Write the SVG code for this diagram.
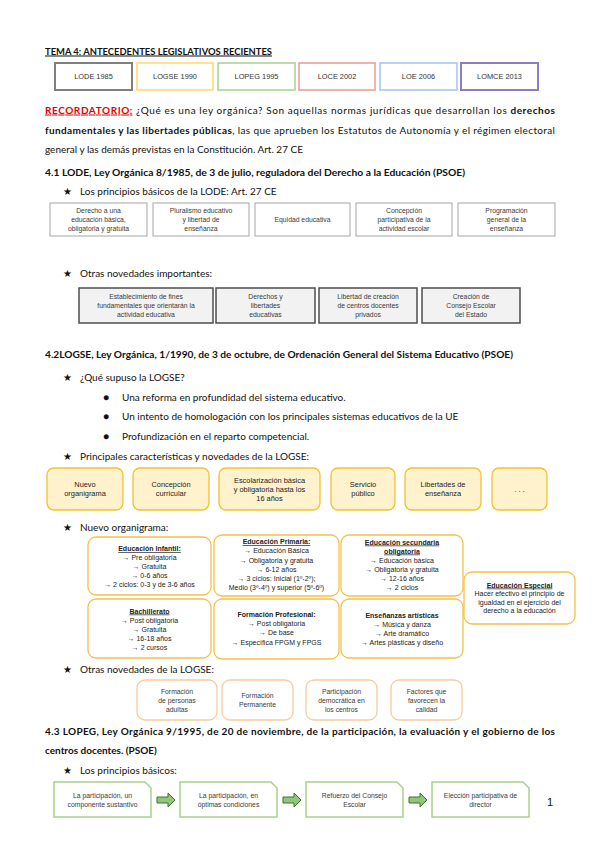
<svg xmlns="http://www.w3.org/2000/svg" width="600" height="848" viewBox="0 0 600 848">
<style>
  .body{font-family:Lato,"Open Sans","Liberation Sans",sans-serif;font-size:10px;fill:#111}
  .b{font-weight:bold}
  .u{text-decoration:underline}
  .star{font-family:"DejaVu Sans",sans-serif;font-size:10px;fill:#111}
  .sm{font-family:"Liberation Sans",Arial,sans-serif;font-size:6.8px;fill:#3a3a3a;text-anchor:middle}
  .lb{font-family:"Liberation Sans",Arial,sans-serif;font-size:7.4px;fill:#222;text-anchor:middle}
  .org{font-family:"Liberation Sans",Arial,sans-serif;font-size:7px;fill:#222;text-anchor:middle}
  .hdr{font-family:"Liberation Sans",Arial,sans-serif;font-size:7.4px;fill:#333;text-anchor:middle}
  .gbox{fill:#fff;stroke:#a6a6a6;stroke-width:1}
  .dbox{fill:#f2f2f2;stroke:#4d4d4d;stroke-width:1.5}
  .ybox{fill:#fff2cc;stroke:#f1c232;stroke-width:1.3}
  .obox{fill:#fff;stroke:#f6c04a;stroke-width:1.3}
  .orbox{fill:#fff;stroke:#f9cb9c;stroke-width:1.3}
  .grbox{fill:#fff;stroke:#a9d18e;stroke-width:1.5}
  .arr{fill:#93c47d;stroke:#38761d;stroke-width:1}
</style>
<defs>
  <path id="blockArrow" d="M0,-3 H11 V-7 L18,0 L11,7 V3 H0 Z"/>
</defs>
<rect width="600" height="848" fill="#fff"/>

<g id="title">
  <text class="body b u" x="45" y="54.5" font-size="9.5" textLength="227" lengthAdjust="spacingAndGlyphs">TEMA 4: ANTECEDENTES LEGISLATIVOS RECIENTES</text>
</g>

<g id="laws">
  <g id="law-lode"><rect x="55" y="63" width="77" height="27" fill="#fff" stroke="#7f7f7f" stroke-width="2"/><text class="hdr" x="93.5" y="79">LODE 1985</text></g>
  <g id="law-logse"><rect x="137" y="63" width="76" height="27" fill="#fff" stroke="#ffd966" stroke-width="1.5"/><text class="hdr" x="175" y="79">LOGSE 1990</text></g>
  <g id="law-lopeg"><rect x="218" y="63" width="77" height="27" fill="#fff" stroke="#a9d18e" stroke-width="1.5"/><text class="hdr" x="256.5" y="79">LOPEG 1995</text></g>
  <g id="law-loce"><rect x="299" y="63" width="76" height="27" fill="#fff" stroke="#ea9999" stroke-width="1.5"/><text class="hdr" x="337" y="79">LOCE 2002</text></g>
  <g id="law-loe"><rect x="380" y="63" width="77" height="27" fill="#fff" stroke="#a4c2f4" stroke-width="1.5"/><text class="hdr" x="418.5" y="79">LOE 2006</text></g>
  <g id="law-lomce"><rect x="461" y="63" width="77" height="27" fill="#fff" stroke="#8e7cc3" stroke-width="2"/><text class="hdr" x="499.5" y="79">LOMCE 2013</text></g>
</g>

<g id="recordatorio">
  <text class="body" x="45" y="113.5" textLength="510" lengthAdjust="spacing"><tspan class="b u" fill="#e00000">RECORDATORIO:</tspan> ¿Qué es una ley orgánica? Son aquellas normas jurídicas que desarrollan los <tspan class="b">derechos</tspan></text>
  <text class="body" x="45" y="133.5" textLength="510" lengthAdjust="spacing"><tspan class="b">fundamentales y las libertades públicas</tspan>, las que aprueben los Estatutos de Autonomía y el régimen electoral</text>
  <text class="body" x="45" y="152.5">general y las demás previstas en la Constitución. Art. 27 CE</text>
</g>

<g id="h41">
  <text class="body b" x="45" y="175.5" textLength="420" lengthAdjust="spacingAndGlyphs">4.1 LODE, Ley Orgánica 8/1985, de 3 de julio, reguladora del Derecho a la Educación (PSOE)</text>
  <text class="star" x="63" y="195">★</text>
  <text class="body" x="80" y="195">Los principios básicos de la LODE: Art. 27 CE</text>
</g>

<g id="lode-p1"><rect class="gbox" x="50" y="203" width="97" height="33"/><text class="sm"><tspan x="98.5" y="213">Derecho a una</tspan><tspan x="98.5" y="222">educación básica,</tspan><tspan x="98.5" y="231">obligatoria y gratuita</tspan></text></g>
<g id="lode-p2"><rect class="gbox" x="153" y="203" width="96" height="33"/><text class="sm"><tspan x="201" y="213">Pluralismo educativo</tspan><tspan x="201" y="222">y libertad de</tspan><tspan x="201" y="231">enseñanza</tspan></text></g>
<g id="lode-p3"><rect class="gbox" x="255" y="203" width="95" height="33"/><text class="sm" x="302.5" y="222">Equidad educativa</text></g>
<g id="lode-p4"><rect class="gbox" x="356" y="203" width="96" height="33"/><text class="sm"><tspan x="404" y="213">Concepción</tspan><tspan x="404" y="222">participativa de la</tspan><tspan x="404" y="231">actividad escolar</tspan></text></g>
<g id="lode-p5"><rect class="gbox" x="458" y="203" width="97" height="33"/><text class="sm"><tspan x="506.5" y="213">Programación</tspan><tspan x="506.5" y="222">general de la</tspan><tspan x="506.5" y="231">enseñanza</tspan></text></g>

<g id="lode-otras-label">
  <text class="star" x="63" y="277">★</text>
  <text class="body" x="80" y="277">Otras novedades importantes:</text>
</g>
<g id="lode-n1"><rect class="dbox" x="79" y="288" width="134" height="35"/><text class="sm"><tspan x="146" y="299">Establecimiento de fines</tspan><tspan x="146" y="308">fundamentales que orientarán la</tspan><tspan x="146" y="317">actividad educativa</tspan></text></g>
<g id="lode-n2"><rect class="dbox" x="216" y="288" width="99" height="35"/><text class="sm"><tspan x="265.5" y="299">Derechos y</tspan><tspan x="265.5" y="308">libertades</tspan><tspan x="265.5" y="317">educativas</tspan></text></g>
<g id="lode-n3"><rect class="dbox" x="319" y="288" width="98" height="35"/><text class="sm"><tspan x="368" y="299">Libertad de creación</tspan><tspan x="368" y="308">de centros docentes</tspan><tspan x="368" y="317">privados</tspan></text></g>
<g id="lode-n4"><rect class="dbox" x="422" y="288" width="98" height="35"/><text class="sm"><tspan x="471" y="299">Creación de</tspan><tspan x="471" y="308">Consejo Escolar</tspan><tspan x="471" y="317">del Estado</tspan></text></g>

<g id="h42">
  <text class="body b" x="45" y="357.5" textLength="468" lengthAdjust="spacingAndGlyphs">4.2LOGSE, Ley Orgánica, 1/1990, de 3 de octubre, de Ordenación General del Sistema Educativo (PSOE)</text>
  <text class="star" x="63" y="380.5">★</text>
  <text class="body" x="80" y="380.5">¿Qué supuso la LOGSE?</text>
  <text class="body" x="103" y="400.5" font-size="7">●</text>
  <text class="body" x="122" y="400.5">Una reforma en profundidad del sistema educativo.</text>
  <text class="body" x="103" y="420" font-size="7">●</text>
  <text class="body" x="122" y="420">Un intento de homologación con los principales sistemas educativos de la UE</text>
  <text class="body" x="103" y="439.5" font-size="7">●</text>
  <text class="body" x="122" y="439.5">Profundización en el reparto competencial.</text>
  <text class="star" x="63" y="459.5">★</text>
  <text class="body" x="80" y="459.5">Principales características y novedades de la LOGSE:</text>
</g>

<g id="logse-c1"><rect class="ybox" x="47" y="468" width="76" height="42" rx="7"/><text class="lb"><tspan x="85" y="487">Nuevo</tspan><tspan x="85" y="496">organigrama</tspan></text></g>
<g id="logse-c2"><rect class="ybox" x="133" y="468" width="76" height="42" rx="7"/><text class="lb"><tspan x="171" y="487">Concepción</tspan><tspan x="171" y="496">curricular</tspan></text></g>
<g id="logse-c3"><rect class="ybox" x="219" y="468" width="101" height="42" rx="7"/><text class="lb"><tspan x="269.5" y="482.5">Escolarización básica</tspan><tspan x="269.5" y="491.5">y obligatoria hasta los</tspan><tspan x="269.5" y="500.5">16 años</tspan></text></g>
<g id="logse-c4"><rect class="ybox" x="331" y="468" width="64" height="42" rx="7"/><text class="lb"><tspan x="363" y="487">Servicio</tspan><tspan x="363" y="496">público</tspan></text></g>
<g id="logse-c5"><rect class="ybox" x="405" y="468" width="76" height="42" rx="7"/><text class="lb"><tspan x="443" y="487">Libertades de</tspan><tspan x="443" y="496">enseñanza</tspan></text></g>
<g id="logse-c6"><rect class="ybox" x="492" y="468" width="55" height="42" rx="7"/><text class="lb" x="519.5" y="492">. . .</text></g>

<g id="org-label">
  <text class="star" x="63" y="530.5">★</text>
  <text class="body" x="80" y="530.5">Nuevo organigrama:</text>
</g>
<g id="org-infantil"><rect class="obox" x="88" y="537" width="123" height="58" rx="8"/><text class="org"><tspan x="149.5" y="551" class="b u">Educación Infantil:</tspan><tspan x="149.5" y="560">→ Pre obligatoria</tspan><tspan x="149.5" y="569">→ Gratuita</tspan><tspan x="149.5" y="578">→ 0-6 años</tspan><tspan x="149.5" y="587">→ 2 ciclos: 0-3 y de 3-6 años</tspan></text></g>
<g id="org-primaria"><rect class="obox" x="214" y="535" width="125" height="61" rx="8"/><text class="org"><tspan x="276.5" y="544" class="b u">Educación Primaria:</tspan><tspan x="276.5" y="553">→ Educación Básica</tspan><tspan x="276.5" y="562.5">→ Obligatoria y gratuita</tspan><tspan x="276.5" y="572">→ 6-12 años</tspan><tspan x="276.5" y="581">→ 3 ciclos: Inicial (1º-2º);</tspan><tspan x="276.5" y="590">Medio (3º-4º) y superior (5º-6º)</tspan></text></g>
<g id="org-eso"><rect class="obox" x="341" y="535" width="122" height="61" rx="8"/><text class="org"><tspan x="402" y="544.5" class="b u">Educación secundaria</tspan><tspan x="402" y="553.5" class="b u">obligatoria</tspan><tspan x="402" y="562.5">→ Educación básica</tspan><tspan x="402" y="571.5">→ Obligatoria y gratuita</tspan><tspan x="402" y="581">→ 12-16 años</tspan><tspan x="402" y="590">→ 2 ciclos</tspan></text></g>
<g id="org-bach"><rect class="obox" x="88" y="599" width="123" height="59" rx="8"/><text class="org"><tspan x="149.5" y="613.5" class="b u">Bachillerato</tspan><tspan x="149.5" y="622.5">→ Post obligatoria</tspan><tspan x="149.5" y="631.5">→ Gratuita</tspan><tspan x="149.5" y="640.5">→ 16-18 años</tspan><tspan x="149.5" y="650">→ 2 cursos</tspan></text></g>
<g id="org-fp"><rect class="obox" x="214" y="599" width="125" height="60" rx="8"/><text class="org"><tspan x="276.5" y="616.5" class="b">Formación Profesional:</tspan><tspan x="276.5" y="626">→ Post obligatoria</tspan><tspan x="276.5" y="635">→ De base</tspan><tspan x="276.5" y="644.5">→ Específica FPGM y FPGS</tspan></text></g>
<g id="org-artisticas"><rect class="obox" x="341" y="599" width="122" height="59" rx="8"/><text class="org"><tspan x="402" y="617.5" class="b">Enseñanzas artísticas</tspan><tspan x="402" y="626.5">→ Música y danza</tspan><tspan x="402" y="635.5">→ Arte dramático</tspan><tspan x="402" y="644.5">→ Artes plásticas y diseño</tspan></text></g>
<g id="org-especial"><rect class="obox" x="464" y="572" width="111" height="52" rx="8"/><text class="org" font-size="6.4"><tspan x="519.5" y="587.5" class="b u" font-size="7">Educación Especial</tspan><tspan x="519.5" y="596">Hacer efectivo el principio de</tspan><tspan x="519.5" y="604.5">igualdad en el ejercicio del</tspan><tspan x="519.5" y="613">derecho a la educación</tspan></text></g>

<g id="logse-otras-label">
  <text class="star" x="63" y="672.5">★</text>
  <text class="body" x="80" y="672.5">Otras novedades de la LOGSE:</text>
</g>
<g id="logse-n1"><rect class="orbox" x="137" y="680" width="80" height="40" rx="8"/><text class="sm"><tspan x="177" y="693.5">Formación</tspan><tspan x="177" y="702.5">de personas</tspan><tspan x="177" y="711.5">adultas</tspan></text></g>
<g id="logse-n2"><rect class="orbox" x="222" y="680" width="71" height="40" rx="8"/><text class="sm"><tspan x="257.5" y="698">Formación</tspan><tspan x="257.5" y="707">Permanente</tspan></text></g>
<g id="logse-n3"><rect class="orbox" x="306" y="680" width="71" height="40" rx="8"/><text class="sm"><tspan x="341.5" y="693.5">Participación</tspan><tspan x="341.5" y="702.5">democrática en</tspan><tspan x="341.5" y="711.5">los centros</tspan></text></g>
<g id="logse-n4"><rect class="orbox" x="391" y="680" width="71" height="40" rx="8"/><text class="sm"><tspan x="426.5" y="693.5">Factores que</tspan><tspan x="426.5" y="702.5">favorecen la</tspan><tspan x="426.5" y="711.5">calidad</tspan></text></g>

<g id="h43">
  <text class="body b" x="45" y="734.5" textLength="510" lengthAdjust="spacing">4.3 LOPEG, Ley Orgánica 9/1995, de 20 de noviembre, de la participación, la evaluación y el gobierno de los</text>
  <text class="body b" x="45" y="753.5">centros docentes. (PSOE)</text>
  <text class="star" x="63" y="773.5">★</text>
  <text class="body" x="80" y="773.5">Los principios básicos:</text>
</g>

<g id="lopeg-p1"><path class="grbox" d="M54,782 H145 L151,788 V817 H54 Z"/><text class="sm"><tspan x="102.5" y="797.5">La participación, un</tspan><tspan x="102.5" y="807">componente sustantivo</tspan></text></g>
<g id="lopeg-p2"><path class="grbox" d="M180,782 H271 L277,788 V817 H180 Z"/><text class="sm"><tspan x="228.5" y="797.5">La participación, en</tspan><tspan x="228.5" y="807">óptimas condiciones</tspan></text></g>
<g id="lopeg-p3"><path class="grbox" d="M306,782 H397 L403,788 V817 H306 Z"/><text class="sm"><tspan x="354.5" y="797.5">Refuerzo del Consejo</tspan><tspan x="354.5" y="807">Escolar</tspan></text></g>
<g id="lopeg-p4"><path class="grbox" d="M432,782 H523 L529,788 V817 H432 Z"/><text class="sm"><tspan x="480.5" y="797.5">Elección participativa de</tspan><tspan x="480.5" y="807">director</tspan></text></g>

<g id="connectors">
  <use href="#blockArrow" class="arr" transform="translate(157,800)"/>
  <use href="#blockArrow" class="arr" transform="translate(283,800)"/>
  <use href="#blockArrow" class="arr" transform="translate(409,800)"/>
</g>

<g id="page-number">
  <text x="547" y="806" font-family="'Liberation Sans',Arial,sans-serif" font-size="11" fill="#111">1</text>
</g>
</svg>
